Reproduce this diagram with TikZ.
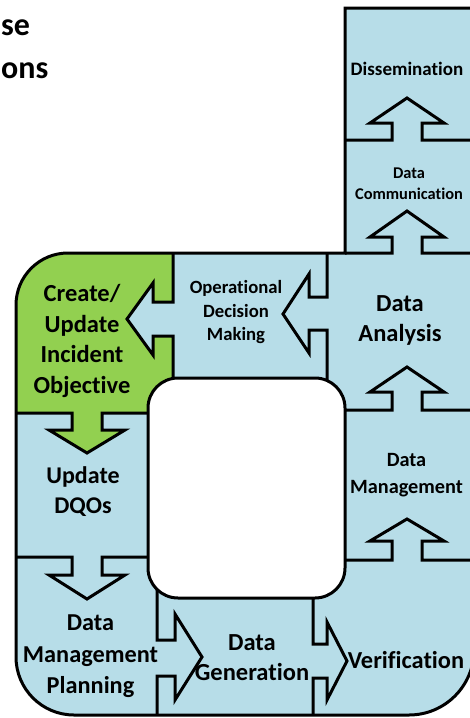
\documentclass[tikz,border=0pt]{standalone}
\usepackage{fontspec}
\setmainfont{Carlito}[Ligatures=NoCommon]
\definecolor{cellblue}{HTML}{B7DDE8}
\definecolor{cellgreen}{HTML}{92D050}
\tikzset{
  edge/.style={line width=3pt, line join=miter, draw=black},
  lbl/.style={anchor=base, inner sep=0pt, text=black, font=\bfseries\fontsize{#1}{#1}\selectfont},
}
\begin{document}
\begin{tikzpicture}[x=1pt,y=-1pt]
\useasboundingbox (0,0) rectangle (470,718);
\clip (0,0) rectangle (470,718);
% outer shape fill
\fill[cellblue] (16,305) arc[start angle=180,end angle=270,radius=52]
  -- (345,253) -- (345,8) -- (474,8) -- (474,650)
  arc[start angle=0,end angle=90,radius=65]
  -- (74,715) arc[start angle=90,end angle=180,radius=58] -- cycle;
% green cell
\fill[cellgreen] (16,413) -- (16,305) arc[start angle=180,end angle=270,radius=52]
  -- (173,253) -- (173,413) -- cycle;
% blue arrow head into the green cell
\fill[cellblue] (174,302) -- (153,302) -- (153,283) -- (127,319) -- (153,355) -- (153,336) -- (174,336) -- cycle;
% green arrow head into the DQO cell
\fill[cellgreen] (72,412) -- (72,430) -- (49,430) -- (87,453) -- (125,430) -- (102,430) -- (102,412) -- cycle;
% hole
\filldraw[fill=white, edge, rounded corners=30pt] (148,378) rectangle (345,598);
% outer outline
\draw[edge] (16,305) arc[start angle=180,end angle=270,radius=52]
  -- (345,253) -- (345,8) -- (474,8) -- (474,650)
  arc[start angle=0,end angle=90,radius=65]
  -- (74,715) arc[start angle=90,end angle=180,radius=58] -- cycle;
% dividers with block arrows
\draw[edge] (173,253) -- (173,302) -- (153,302) -- (153,283) -- (127,319) -- (153,355) -- (153,336) -- (173,336) -- (173,379);
\draw[edge] (327,253) -- (327,297) -- (309,297) -- (309,274) -- (283,314) -- (309,353) -- (309,330) -- (327,330) -- (327,381);
\draw[edge] (345,140) -- (392,140) -- (392,123) -- (370,123) -- (407,98) -- (444,123) -- (422,123) -- (422,140) -- (474,140);
\draw[edge] (345,253) -- (392,253) -- (392,237) -- (370,237) -- (407,211) -- (444,237) -- (422,237) -- (422,253) -- (474,253);
\draw[edge] (345,410) -- (392,410) -- (392,392) -- (370,392) -- (407,367) -- (444,392) -- (422,392) -- (422,410) -- (474,410);
\draw[edge] (345,560) -- (392,560) -- (392,541) -- (370,541) -- (407,519) -- (444,541) -- (422,541) -- (422,560) -- (474,560);
\draw[edge] (313,598) -- (313,644) -- (327,644) -- (327,622) -- (347,661) -- (327,700) -- (327,678) -- (313,678) -- (313,715);
\draw[edge] (157,589) -- (157,640) -- (175,640) -- (175,614) -- (202,657) -- (175,700) -- (175,676) -- (157,676) -- (157,715);
\draw[edge] (16,557) -- (72,557) -- (72,575) -- (49,575) -- (87,599) -- (125,575) -- (102,575) -- (102,557) -- (148,557);
\draw[edge] (16,413) -- (72,413) -- (72,430) -- (49,430) -- (87,453) -- (125,430) -- (102,430) -- (102,413) -- (148,413);
% title fragments
\node[lbl=32, anchor=base west] (t1) at (1,35) {se};
\node[lbl=32, anchor=base west] (t2) at (1,78) {ons};
% labels
\node[lbl=19] (diss) at (407,75) {Dissemination};
\node[lbl=16.4] (dc1) at (409,178) {Data};
\node[lbl=16.4] (dc2) at (409,199) {Communication};
\node[lbl=24.5] (da1) at (400,311) {Data};
\node[lbl=24.5] (da2) at (400,341) {Analysis};
\node[lbl=18.7] (op1) at (236,293) {Operational};
\node[lbl=18.7] (op2) at (236,317) {Decision};
\node[lbl=18.7] (op3) at (236,340) {Making};
\node[lbl=24.5] (cr1) at (82,301.5) {Create/};
\node[lbl=24.5] (cr2) at (82,332) {Update};
\node[lbl=24.5] (cr3) at (82,362.5) {Incident};
\node[lbl=24.5] (cr4) at (82,393) {Objective};
\node[lbl=24] (dq1) at (83,483) {Update};
\node[lbl=24] (dq2) at (83,513) {DQOs};
\node[lbl=20.3] (dm1) at (406.5,466) {Data};
\node[lbl=20.3] (dm2) at (406.5,493) {Management};
\node[lbl=24.3] (dp1) at (90.5,630) {Data};
\node[lbl=24.3] (dp2) at (90.5,662) {Management};
\node[lbl=24.3] (dp3) at (90.5,693) {Planning};
\node[lbl=24.5] (dg1) at (252,650) {Data};
\node[lbl=24.5] (dg2) at (252,680) {Generation};
\node[lbl=24.4] (ver) at (406,668) {Verification};
\end{tikzpicture}
\end{document}
